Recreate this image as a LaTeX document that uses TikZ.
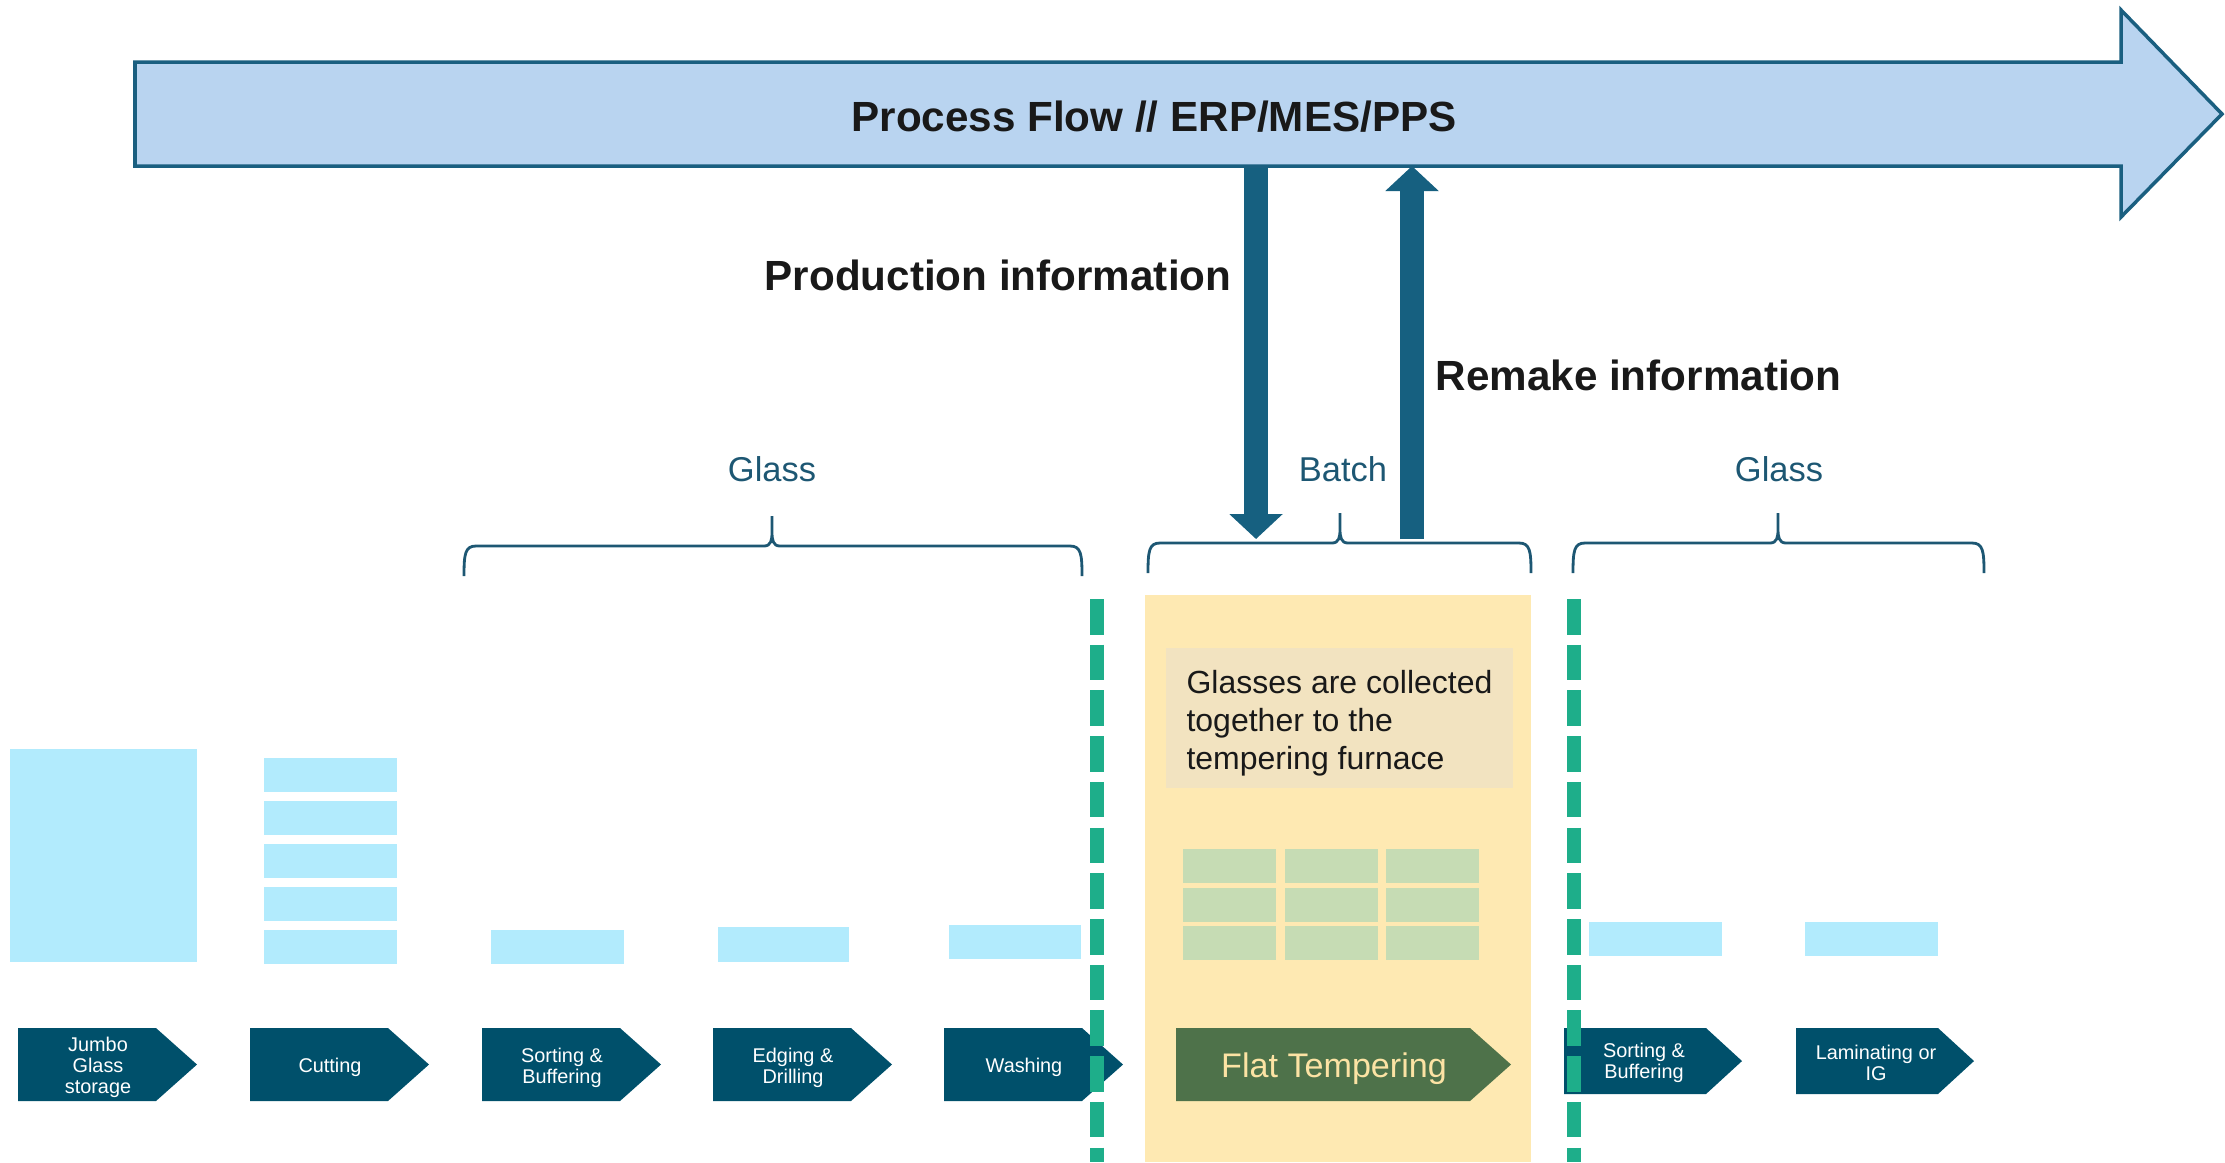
\documentclass[tikz,border=0pt]{standalone}
\usepackage{fontspec}
\setmainfont{Liberation Sans}
\usetikzlibrary{arrows.meta}

\definecolor{flowfill}{HTML}{B9D4F0}
\definecolor{flowedge}{HTML}{1A5F80}
\definecolor{infoblue}{HTML}{166080}
\definecolor{bracecol}{HTML}{1D5773}
\definecolor{stepteal}{HTML}{00506B}
\definecolor{tempergreen}{HTML}{4E724A}
\definecolor{tempertext}{HTML}{FCE3A4}
\definecolor{glassblue}{HTML}{B2EBFD}
\definecolor{batchyellow}{HTML}{FEE9B2}
\definecolor{notefill}{HTML}{F2E3C0}
\definecolor{gridgreen}{HTML}{C6DCB4}
\definecolor{dashgreen}{HTML}{1EAE8A}

% curly group brace: left x, tip x, right x, line y
\newcommand{\groupbrace}[4]{%
    \draw[bracestyle] (#1,#4+30) .. controls (#1,#4+8) and (#1+1,#4) .. (#1+12,#4)
        -- (#2-8,#4) .. controls (#2-1,#4) and (#2,#4-6) .. (#2,#4-14) -- (#2,#4-30)
        -- (#2,#4-14) .. controls (#2,#4-6) and (#2+1,#4) .. (#2+8,#4)
        -- (#3-12,#4) .. controls (#3-1,#4) and (#3,#4+8) .. (#3,#4+30);
}

\begin{document}
\begin{tikzpicture}[x=0.01cm, y=-0.01cm,
    steplabel/.style={text=white, align=center, inner sep=0pt, font=\fontsize{5.65}{6}\selectfont},
    grouplabel/.style={text=bracecol, anchor=base, inner sep=0pt, font=\fontsize{9.8}{11}\selectfont},
    infolabel/.style={text=black!90, inner sep=0pt, font=\bfseries\fontsize{12}{14}\selectfont},
    infoarrow/.style={draw=infoblue, line width=2.4mm, -{Triangle[width=5.2mm, length=2.5mm]}},
    bracestyle/.style={draw=bracecol, line width=0.8pt},
    batchdash/.style={draw=dashgreen, line width=3.8pt, dash pattern=on 10.1pt off 2.9pt}]

    \useasboundingbox (0,0) rectangle (2225,1162);

    % Batch area
    \fill[batchyellow] (1145,595) rectangle (1531,1162);
    \node[fill=notefill, minimum width=3.47cm, minimum height=1.34cm, align=left,
          font=\fontsize{9.1}{10.8}\selectfont, text=black!90] (note) at (1339.5,718)
        {\rule{0pt}{9.4pt}Glasses are collected\\together to the\\tempering furnace};
    \foreach \c in {0, 1, 2} {
        \foreach \r in {0, 1, 2} {
            \fill[gridgreen] (1183+\c*101.5, 849+\r*38.5) rectangle ++(93,34);
        }
    }

    % Glass sheets
    \fill[glassblue] (10,749) rectangle (197,962);
    \foreach \y in {758, 801, 844, 887, 930} {
        \fill[glassblue] (264,\y) rectangle ++(133,34);
    }
    \fill[glassblue] (491,930) rectangle (624,964);
    \fill[glassblue] (718,927) rectangle (849,962);
    \fill[glassblue] (949,925) rectangle (1081,959);
    \fill[glassblue] (1589,922) rectangle (1722,956);
    \fill[glassblue] (1805,922) rectangle (1938,956);

    % Process steps
    \foreach \x/\name/\lbl in {18/jumbo/{Jumbo\\Glass\\storage}, 250/cutting/Cutting,
            482/sortA/{Sorting \&\\Buffering}, 713/edging/{Edging \&\\Drilling}, 944/washing/Washing} {
        \fill[stepteal] (\x,1028) -- ++(138,0) -- ++(41,36.5) -- ++(-41,36.5) -- ++(-138,0) -- cycle;
        \node[steplabel] (\name) at (\x+80,1067.5) {\lbl};
    }
    \fill[tempergreen] (1176,1028) -- ++(294,0) -- ++(41,36.5) -- ++(-41,36.5) -- ++(-294,0) -- cycle;
    \node[text=tempertext, font=\fontsize{9.7}{11}\selectfont] (tempering) at (1334,1069) {Flat Tempering};
    \foreach \x/\name/\lbl in {1564/sortB/{Sorting \&\\Buffering}, 1796/laminating/{Laminating or\\IG}} {
        \fill[stepteal] (\x,1028) -- ++(142,0) -- ++(36,33) -- ++(-36,33) -- ++(-142,0) -- cycle;
        \node[steplabel] (\name) at (\x+80,1063) {\lbl};
    }

    % Batch borders
    \draw[batchdash] (1097,599) -- (1097,1162);
    \draw[batchdash] (1574,599) -- (1574,1162);

    % Groups
    \groupbrace{464}{772}{1082}{546}
    \groupbrace{1148}{1340}{1531}{543}
    \groupbrace{1573}{1778}{1984}{543}
    \node[grouplabel] (glassA) at (772,481) {Glass};
    \node[grouplabel] (batch) at (1343,481) {Batch};
    \node[grouplabel] (glassB) at (1779,481) {Glass};

    % Information exchange
    \coordinate (prodtop) at (1256,166);
    \coordinate (prodtip) at (1256,539);
    \coordinate (remakebot) at (1412,539);
    \coordinate (remaketip) at (1412,166);
    \draw[infoarrow] (prodtop) -- (prodtip);
    \draw[infoarrow] (remakebot) -- (remaketip);
    \node[infolabel, anchor=base east] (prodinfo) at (1232,290) {Production information};
    \node[infolabel, anchor=base west] (remakeinfo) at (1435,390) {Remake information};

    % Process flow banner
    \draw[line width=1pt, draw=flowedge, fill=flowfill] (135,62) -- (2121,62) -- (2121,10)
        -- (2222,114) -- (2121,217) -- (2121,166) -- (135,166) -- cycle;
    \node[infolabel, anchor=base] (flow) at (1154,131) {Process Flow // ERP/MES/PPS};
\end{tikzpicture}
\end{document}
